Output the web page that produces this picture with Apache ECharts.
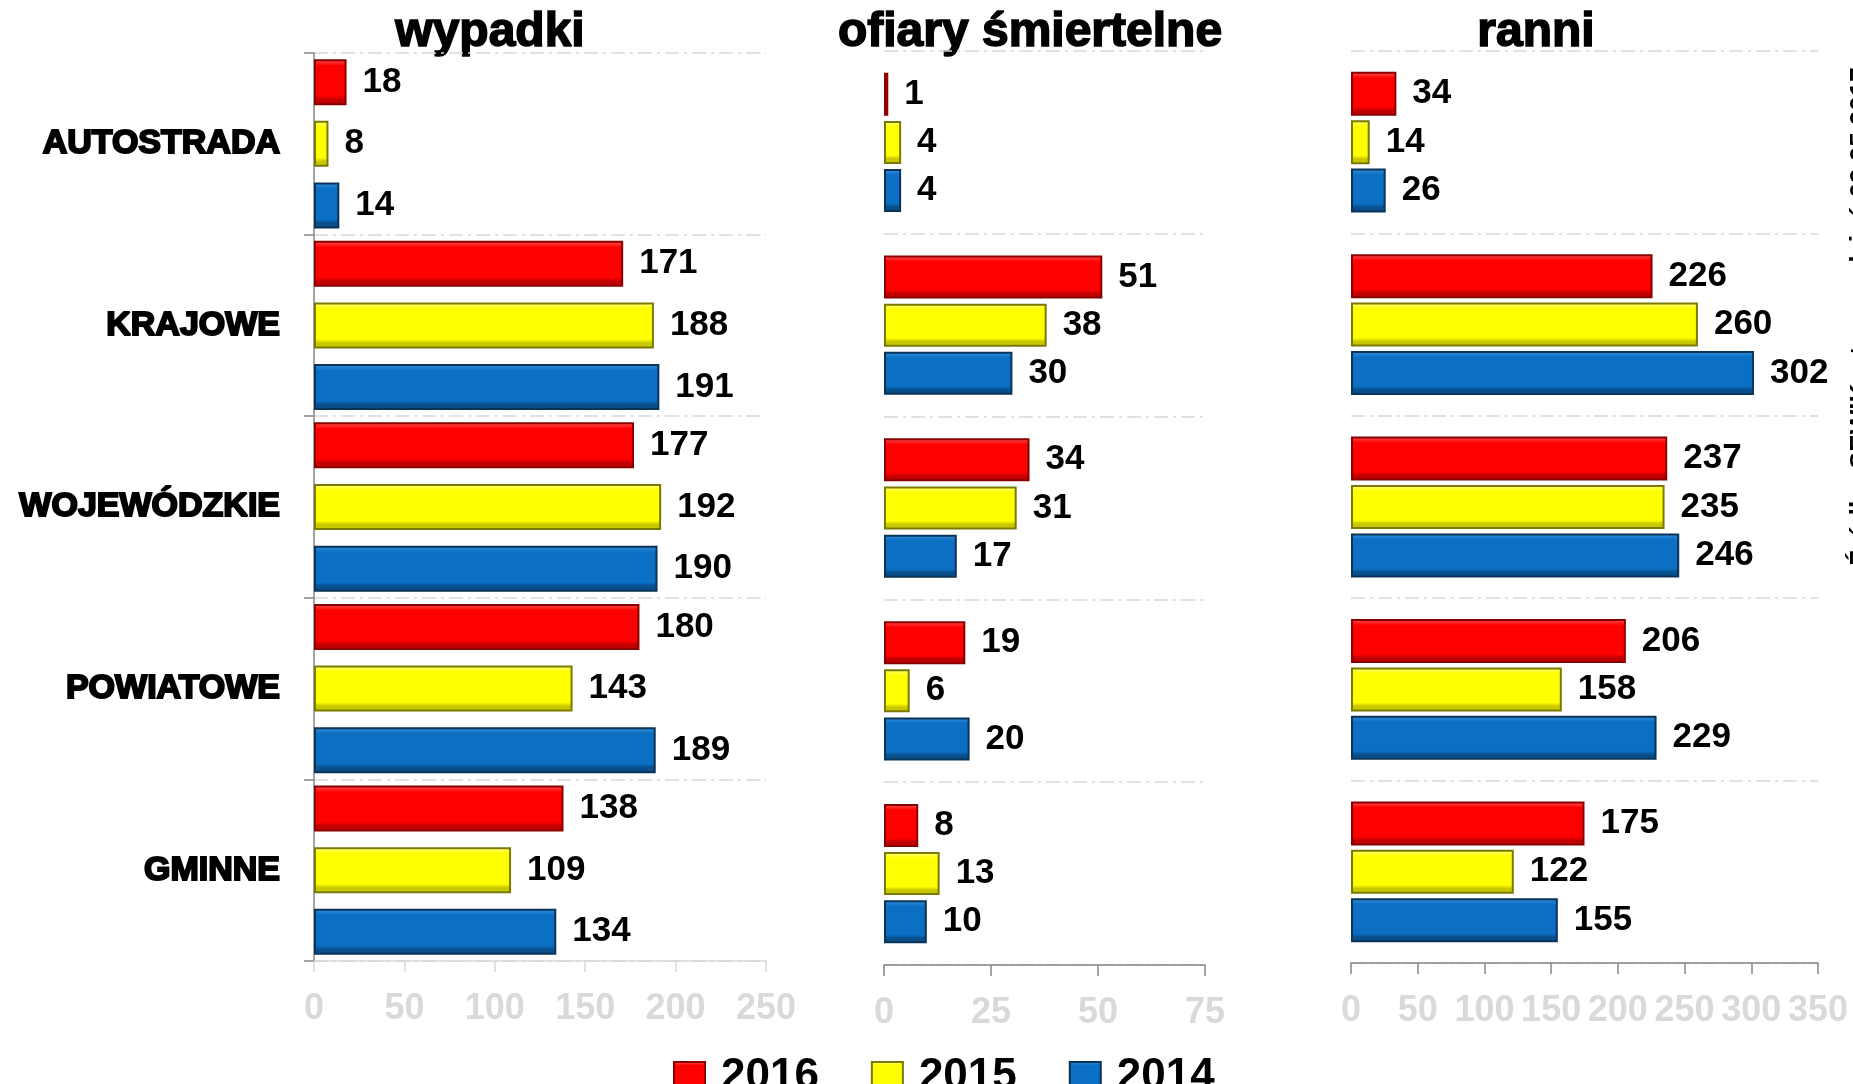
<!DOCTYPE html>
<meta charset="utf-8">
<title>wypadki</title>
<style>
body {
    margin: 0;
}
#echart {
    height: 1084px;
    width: 1853px;
}
</style>
<div id='echart'></div>
<script src='https://cdn.jsdelivr.net/npm/echarts@6/dist/echarts.min.js'></script>
<script>
let categories = ['AUTOSTRADA', 'KRAJOWE', 'WOJEWÓDZKIE', 'POWIATOWE', 'GMINNE']
let years = ['2016', '2015', '2014']
let wypadki_2016 = [18, 171, 177, 180, 138]
let wypadki_2015 = [8, 188, 192, 143, 109]
let wypadki_2014 = [14, 191, 190, 189, 134]
let ofiary_2016 = [1, 51, 34, 19, 8]
let ofiary_2015 = [4, 38, 31, 6, 13]
let ofiary_2014 = [4, 30, 17, 20, 10]
let ranni_2016 = [34, 226, 237, 206, 175]
let ranni_2015 = [14, 260, 235, 158, 122]
let ranni_2014 = [26, 302, 246, 229, 155]
let titles = ['wypadki', 'ofiary śmiertelne', 'ranni']
let source_note = 'Źródło: SEWIK, stan na dzień 09.05.2017 r.'

let FONT = '"Liberation Sans", Arial, sans-serif'
let colors = {
    '2016': ['#ff5a5a', '#ff0000', '#c00000', '#8a0000'],
    '2015': ['#ffff8a', '#ffff00', '#c8c800', '#7a7a00'],
    '2014': ['#3a92dc', '#0b6fc4', '#084f8c', '#0a3358'],
}
function bevel(year) {
    let [light, base, dark, border] = colors[year]
    return {
        color: new echarts.graphic.LinearGradient(0, 0, 0, 1, [
            {offset: 0, color: light},
            {offset: 0.14, color: base},
            {offset: 0.8, color: base},
            {offset: 0.88, color: dark},
            {offset: 1, color: dark},
        ]),
        borderColor: border,
        borderWidth: 2,
    }
}

let echart = echarts.init(document.querySelector('#echart'))
let grids = [
    {left: 314, width: 452, top: 53, height: 908},
    {left: 884, width: 321, top: 51, height: 914},
    {left: 1351, width: 467, top: 51, height: 912},
]
let maxes = [250, 75, 350]
let intervals = [50, 25, 50]
let bar_widths = [46, 43, 44]
let bar_gaps = ['34%', '12%', '10%']
let panels = [
    [wypadki_2016, wypadki_2015, wypadki_2014],
    [ofiary_2016, ofiary_2015, ofiary_2014],
    [ranni_2016, ranni_2015, ranni_2014],
]
let split_line = {show: true, lineStyle: {color: '#d9d9d9', width: 1.5, type: [14, 5, 3, 5]}}
let xAxis = grids.map((g, i) => ({
    type: 'value',
    gridIndex: i,
    min: 0,
    max: maxes[i],
    interval: intervals[i],
    splitLine: {show: false},
    axisLine: {show: true, lineStyle: {color: i == 0 ? '#d9d9d9' : '#868686', width: 1.5}},
    axisTick: {show: true, length: 11, lineStyle: {color: i == 0 ? '#d9d9d9' : '#868686', width: 1.5}},
    axisLabel: {color: '#d9d9d9', fontFamily: FONT, fontWeight: 'bold', fontSize: 36, margin: 30},
}))
let yAxis = grids.map((g, i) => ({
    type: 'category',
    gridIndex: i,
    data: categories,
    inverse: true,
    axisLine: {show: i == 0, lineStyle: {color: '#868686', width: 1.5}},
    axisTick: {show: i == 0, length: 10, lineStyle: {color: '#868686', width: 1.5}},
    axisLabel: {
        show: i == 0, color: '#000', fontFamily: FONT, fontWeight: 'bold', fontSize: 34, margin: 34,
        textBorderColor: '#000', textBorderWidth: 2,
    },
    splitLine: split_line,
}))
let series = []
panels.forEach((values, i) => {
    values.forEach((data, k) => {
        series.push({
            type: 'bar',
            name: years[k],
            xAxisIndex: i,
            yAxisIndex: i,
            data,
            barWidth: bar_widths[i],
            barGap: bar_gaps[i],
            itemStyle: bevel(years[k]),
            label: {
                show: true, position: 'right', distance: 16, color: '#000',
                fontFamily: FONT, fontWeight: 'bold', fontSize: 35,
            },
            emphasis: {disabled: true},
        })
    })
})
let title_x = [490, 1030, 1536]
let graphic = titles.map((t, i) => ({
    type: 'text',
    x: title_x[i],
    y: 33,
    style: {
        text: t, fill: '#000', font: `bold 48px ${FONT}`,
        align: 'center', verticalAlign: 'middle', stroke: '#000', lineWidth: 1.6,
    },
}))
graphic.push({
    type: 'text',
    x: 1848,
    y: 305,
    rotation: Math.PI / 2,
    style: {text: source_note, fill: '#000', font: `bold 26px ${FONT}`, align: 'center', verticalAlign: 'top'},
})
let option = {
    animation: false,
    grid: grids,
    xAxis,
    yAxis,
    series,
    graphic,
    legend: {
        data: years.map(y => ({name: y, itemStyle: bevel(y)})),
        left: 668,
        top: 1050,
        itemWidth: 31,
        itemHeight: 30,
        itemGap: 52,
        icon: 'rect',
        textStyle: {color: '#000', fontFamily: FONT, fontWeight: 'bold', fontSize: 44, padding: [0, 0, 0, 11]},
        selectedMode: false,
    },
}
echart.setOption(option)
</script>
